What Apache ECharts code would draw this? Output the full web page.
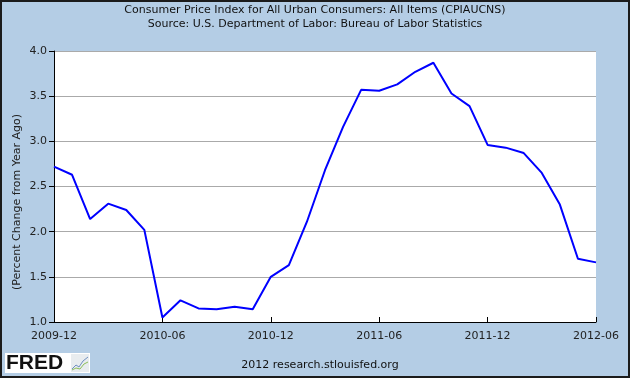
<!DOCTYPE html>
<html>
<head>
<meta charset="utf-8">
<script src="https://cdn.jsdelivr.net/npm/echarts@6/dist/echarts.min.js"></script>
<style>
html,body{margin:0;padding:0;background:#B4CDE5;}
#chart{width:630px;height:378px;}
</style>
</head>
<body>
<div id="chart"></div>
<script>
const titleLines = [
  'Consumer Price Index for All Urban Consumers: All Items (CPIAUCNS)',
  'Source: U.S. Department of Labor: Bureau of Labor Statistics'
];
const yAxisName = '(Percent Change from Year Ago)';
const footerText = '2012 research.stlouisfed.org';
const months = [
  '2009-12','2010-01','2010-02','2010-03','2010-04','2010-05','2010-06','2010-07','2010-08','2010-09','2010-10','2010-11',
  '2010-12','2011-01','2011-02','2011-03','2011-04','2011-05','2011-06','2011-07','2011-08','2011-09','2011-10','2011-11',
  '2011-12','2012-01','2012-02','2012-03','2012-04','2012-05','2012-06'
];
const cpiChange = [
  2.72, 2.63, 2.14, 2.31, 2.24, 2.02, 1.05, 1.24, 1.15, 1.14, 1.17, 1.14,
  1.50, 1.63, 2.11, 2.68, 3.16, 3.57, 3.56, 3.63, 3.77, 3.87, 3.53, 3.39,
  2.96, 2.93, 2.87, 2.65, 2.30, 1.70, 1.66
];
const yMin = 1.0, yMax = 4.0, yStep = 0.5;

const chart = echarts.init(document.getElementById('chart'), null, {renderer: 'canvas'});
const font = 'DejaVu Sans';
chart.setOption({
  backgroundColor: '#B4CDE5',
  animation: false,
  grid: {left: 54, right: 34, top: 51, bottom: 56, show: true, backgroundColor: '#ffffff', borderWidth: 0},
  xAxis: {
    type: 'category',
    data: months,
    boundaryGap: false,
    axisLine: {lineStyle: {color: '#000', width: 1}},
    axisTick: {inside: true, length: 5, interval: 5, lineStyle: {color: '#000'}},
    axisLabel: {interval: 5, color: '#222', fontFamily: font, fontSize: 11, margin: 9},
    splitLine: {show: false}
  },
  yAxis: {
    type: 'value',
    min: yMin, max: yMax, interval: yStep,
    axisLine: {show: true, lineStyle: {color: '#000', width: 1}},
    axisTick: {show: true, inside: false, length: 5, lineStyle: {color: '#000'}},
    axisLabel: {color: '#222', fontFamily: font, fontSize: 11, margin: 7, formatter: v => v.toFixed(1)},
    splitLine: {show: true, lineStyle: {color: '#aaaaaa', width: 1}}
  },
  series: [{
    type: 'line',
    data: cpiChange,
    showSymbol: false,
    lineStyle: {color: '#0000ff', width: 2},
    itemStyle: {color: '#0000ff'}
  }],
  graphic: [
    {type: 'text', x: 315, y: 5, style: {text: titleLines[0], textAlign: 'center', fill: '#111', font: '11px "DejaVu Sans"'}},
    {type: 'text', x: 315, y: 19, style: {text: titleLines[1], textAlign: 'center', fill: '#111', font: '11px "DejaVu Sans"'}},
    {type: 'text', x: 17, y: 202, rotation: Math.PI / 2, style: {text: yAxisName, textAlign: 'center', textVerticalAlign: 'middle', fill: '#222', font: '11px "DejaVu Sans"'}},
    {type: 'text', x: 320, y: 360, style: {text: footerText, textAlign: 'center', fill: '#111', font: '11px "DejaVu Sans"'}},
    {type: 'rect', shape: {x: 5, y: 353, width: 85, height: 20}, style: {fill: '#ffffff'}},
    {type: 'text', x: 6, y: 353, style: {text: 'FRED', fill: '#111', font: 'bold 21px "Liberation Sans"'}},
    {type: 'rect', shape: {x: 71, y: 354, width: 18, height: 18}, style: {fill: '#e8ecef'}},
    {type: 'polyline', shape: {points: [[72,369],[76,365],[79,367],[83,361],[88,357]]}, style: {stroke: '#6f8fc0', lineWidth: 1, fill: null}},
    {type: 'polyline', shape: {points: [[72,370],[76,368],[80,369],[84,364],[88,362]]}, style: {stroke: '#8cbf5a', lineWidth: 1, fill: null}},
    {type: 'rect', shape: {x: 1, y: 1, width: 628, height: 376}, style: {fill: null, stroke: '#1b1b1b', lineWidth: 2}, z: 100}
  ]
});
</script>
</body>
</html>
